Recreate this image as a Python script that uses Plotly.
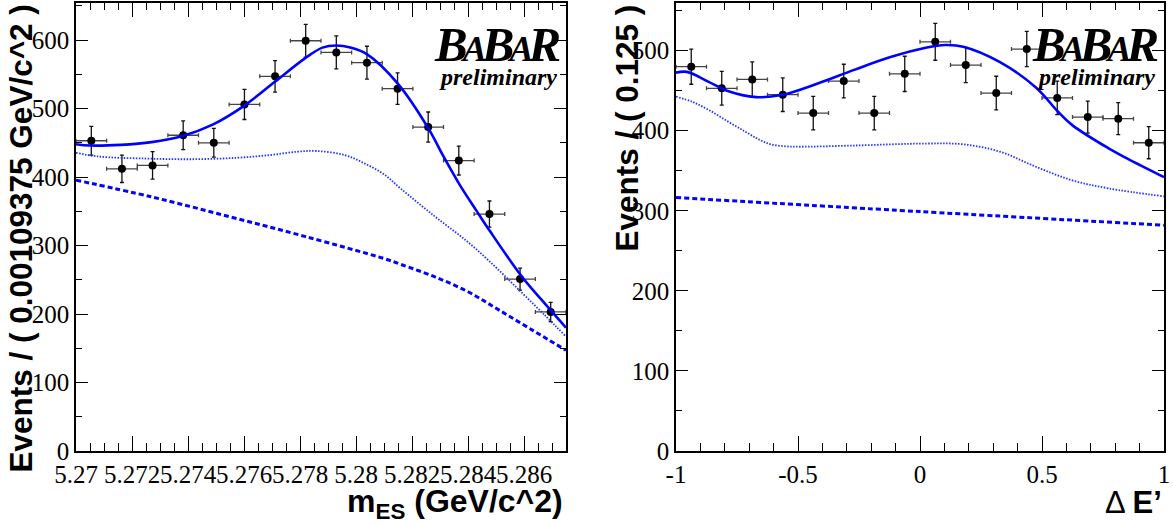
import plotly.graph_objects as go

W, H = 1173, 525

# ---------------- data: left panel (m_ES) ----------------
mes_centers = [5.270546875, 5.271640625, 5.272734375, 5.273828125, 5.274921875, 5.276015625,
               5.277109375, 5.278203125, 5.279296875, 5.280390625, 5.281484375, 5.282578125,
               5.283671875, 5.284765625, 5.285859375, 5.286953125]
mes_counts = [453, 412, 417, 461, 450, 506, 547, 599, 582, 567, 529, 473, 424, 346, 251, 203]
mes_errors = [21, 20, 20, 21, 21, 22, 23, 24, 24, 24, 23, 22, 21, 19, 16, 14]
mes_half_bin = 0.000546875

mes_total_x = [5.2700, 5.2705, 5.2716, 5.2727, 5.2738, 5.2749, 5.2760, 5.2771, 5.2782, 5.2788,
               5.2793, 5.2798, 5.2804, 5.2815, 5.2826, 5.2831, 5.2837, 5.2843, 5.2848,
               5.2859, 5.2866, 5.2875]
mes_total_y = [448, 446, 447, 451, 460, 477, 504, 539, 574, 589, 592, 589, 579, 536, 470, 432,
               389, 351, 320, 256, 222, 180]

mes_bkg_x = [5.2700, 5.2708, 5.2725, 5.2741, 5.2757, 5.2769, 5.2779, 5.2786, 5.2796, 5.2803,
             5.2810, 5.2816, 5.2828, 5.2840, 5.2850, 5.2859, 5.2867, 5.2875]
mes_bkg_y = [435.5, 430, 427, 426, 428, 432, 437, 438, 432, 420, 404, 383, 343, 305, 268, 232, 200, 167]

mes_cont_x = [5.2700, 5.2727, 5.2755, 5.2782, 5.2810, 5.2816, 5.2828, 5.2840, 5.2851, 5.2863, 5.2875]
mes_cont_y = [395.5, 371, 342, 313, 281, 272.5, 254.5, 232.5, 206, 176.5, 147]

mes_tickvals = [5.270, 5.272, 5.274, 5.276, 5.278, 5.280, 5.282, 5.284, 5.286]
mes_ticktext = ["5.27", "5.272", "5.274", "5.276", "5.278", "5.28", "5.282", "5.284", "5.286"]
left_yticks = [0, 100, 200, 300, 400, 500, 600]

# ---------------- data: right panel (Delta E') ----------------
de_centers = [-0.9375, -0.8125, -0.6875, -0.5625, -0.4375, -0.3125, -0.1875, -0.0625,
              0.0625, 0.1875, 0.3125, 0.4375, 0.5625, 0.6875, 0.8125, 0.9375]
de_counts = [480, 453, 464, 445, 422, 462, 422, 471, 511, 482, 447, 502, 441, 417, 415, 385]
de_errors = [22, 21, 22, 21, 21, 21, 21, 22, 23, 22, 21, 22, 21, 20, 20, 20]
de_half_bin = 0.0625

de_total_x = [-1.0, -0.955, -0.866, -0.791, -0.672, -0.568, -0.419, -0.270, -0.121, 0.028,
              0.103, 0.177, 0.326, 0.475, 0.565, 0.624, 0.773, 0.848, 1.0]
de_total_y = [472.5, 473.5, 461, 450, 442, 444.5, 459, 476, 492, 504, 507, 505, 486, 454,
              424, 407, 378, 365.5, 342]

de_bkg_x = [-1.0, -0.933, -0.866, -0.79, -0.717, -0.66, -0.612, -0.55, -0.493, -0.27, 0.028,
            0.177, 0.326, 0.475, 0.624, 0.773, 1.0]
de_bkg_y = [442.5, 436, 426, 412, 399, 389, 383, 380.5, 380, 381.5, 384, 383, 374, 355, 338, 328, 318]

de_cont_x = [-1.0, 0.0, 1.0]
de_cont_y = [316.5, 299, 282]

de_tickvals = [-1, -0.5, 0, 0.5, 1]
de_ticktext = ["-1", "-0.5", "0", "0.5", "1"]
right_yticks = [0, 100, 200, 300, 400, 500]

BLUE = "#0000ff"


def px_x(p):
    return p / W


def px_y(p):
    return 1 - p / H


fig = go.Figure()


def add_panel(xa, ya, cx, cy, cerr, half, tot_x, tot_y, bkg_x, bkg_y, cont_x, cont_y):
    fig.add_trace(go.Scatter(
        x=cx, y=cy, mode="markers", xaxis=xa, yaxis=ya,
        marker=dict(color="black", size=8, symbol="circle"),
        error_y=dict(type="data", array=cerr, visible=True, color="#111111", thickness=1.3, width=2),
        error_x=dict(type="constant", value=half, visible=True, color="#444444", thickness=1.3, width=2),
        showlegend=False, hoverinfo="skip"))
    fig.add_trace(go.Scatter(
        x=bkg_x, y=bkg_y, mode="lines", xaxis=xa, yaxis=ya,
        line=dict(color="#2233ff", width=1.8, dash="1.5px,1.5px", shape="spline"),
        showlegend=False, hoverinfo="skip"))
    fig.add_trace(go.Scatter(
        x=cont_x, y=cont_y, mode="lines", xaxis=xa, yaxis=ya,
        line=dict(color=BLUE, width=3, dash="5px,3px", shape="spline"),
        showlegend=False, hoverinfo="skip"))
    fig.add_trace(go.Scatter(
        x=tot_x, y=tot_y, mode="lines", xaxis=xa, yaxis=ya,
        line=dict(color=BLUE, width=2.6, shape="spline"),
        showlegend=False, hoverinfo="skip"))


add_panel("x", "y", mes_centers, mes_counts, mes_errors, mes_half_bin,
          mes_total_x, mes_total_y, mes_bkg_x, mes_bkg_y, mes_cont_x, mes_cont_y)
add_panel("x2", "y2", de_centers, de_counts, de_errors, de_half_bin,
          de_total_x, de_total_y, de_bkg_x, de_bkg_y, de_cont_x, de_cont_y)

tickfont = dict(family="Liberation Serif", size=25, color="black")
common = dict(showline=True, linecolor="black", linewidth=1.6, mirror="ticks",
              ticks="inside", tickcolor="black", tickwidth=1.3,
              showgrid=False, zeroline=False, tickfont=tickfont, tickangle=0,
              fixedrange=True, automargin=False)

y_dom = [1 - 451 / H, 1 - 2.6 / H]

fig.update_layout(
    width=W, height=H,
    margin=dict(l=0, r=0, t=0, b=0, pad=0, autoexpand=False),
    paper_bgcolor="white", plot_bgcolor="white",
    showlegend=False,
    xaxis=dict(domain=[76 / W, 566 / W], range=[5.27, 5.2875], anchor="y",
               tickmode="array", tickvals=mes_tickvals, ticktext=mes_ticktext, ticklen=15,
               minor=dict(ticks="inside", ticklen=8, tickmode="linear", tick0=5.27, dtick=0.0005,
                          tickcolor="black", tickwidth=1.2, showgrid=False),
               **common),
    yaxis=dict(domain=y_dom, range=[0, 654.7], anchor="x",
               tickmode="array", tickvals=left_yticks, ticktext=[str(v) for v in left_yticks],
               ticklen=12,
               minor=dict(ticks="inside", ticklen=6, tickmode="linear", tick0=0, dtick=50,
                          tickcolor="black", tickwidth=1.2, showgrid=False),
               **common),
    xaxis2=dict(domain=[676 / W, 1164 / W], range=[-1, 1], anchor="y2",
                tickmode="array", tickvals=de_tickvals, ticktext=de_ticktext, ticklen=15,
                minor=dict(ticks="inside", ticklen=8, tickmode="linear", tick0=-1, dtick=0.1,
                           tickcolor="black", tickwidth=1.2, showgrid=False),
                **common),
    yaxis2=dict(domain=y_dom, range=[0, 560], anchor="x2",
                tickmode="array", tickvals=right_yticks, ticktext=[str(v) for v in right_yticks],
                ticklen=12,
                minor=dict(ticks="inside", ticklen=6, tickmode="linear", tick0=0, dtick=50,
                           tickcolor="black", tickwidth=1.2, showgrid=False),
                **common),
)

title_font = dict(family="Liberation Sans", size=31.5, color="black", weight="bold")
ann = []
# y-axis titles (right-aligned at top of axis, like ROOT)
ann.append(dict(text="Events / ( 0.00109375 GeV/c^2 )", textangle=-90,
                x=px_x(20.6), y=px_y(3), xanchor="center", yanchor="top",
                xref="paper", yref="paper", showarrow=False, font=title_font))
ann.append(dict(text="Events / ( 0.125 )", textangle=-90,
                x=px_x(627), y=px_y(3), xanchor="center", yanchor="top",
                xref="paper", yref="paper", showarrow=False, font=title_font))
# x-axis titles
ann.append(dict(text="m<sub>ES</sub> (GeV/c^2)",
                x=px_x(565), y=px_y(481), xanchor="right", yanchor="top",
                xref="paper", yref="paper", showarrow=False,
                font=dict(family="Liberation Sans", size=32, color="black", weight="bold")))
ann.append(dict(text="\u0394 <b>E\u2019</b>",
                x=px_x(1164), y=px_y(482.5), xanchor="right", yanchor="top",
                xref="paper", yref="paper", showarrow=False,
                font=dict(family="Liberation Sans", size=31, color="black")))

# BaBar logos (one text each, small capital A's)
logo_text = ('<span style="letter-spacing:-5px">B<span style="font-size:36px">A</span>'
             'B<span style="font-size:36px">A</span>R</span>')
logo_size = 49
logo_baseline = 60
for logo_right, prelim_right in [(561, 559), (1159, 1157)]:
    ann.append(dict(text=logo_text, x=px_x(logo_right), y=px_y(logo_baseline - 0.891 * logo_size - 1),
                    xanchor="right", yanchor="top", xref="paper", yref="paper",
                    showarrow=False,
                    font=dict(family="Liberation Serif", size=logo_size, color="black",
                              weight="bold", style="italic")))
    ann.append(dict(text="preliminary", x=px_x(prelim_right), y=px_y(84 - 0.891 * 24 - 1),
                    xanchor="right", yanchor="top", xref="paper", yref="paper",
                    showarrow=False,
                    font=dict(family="Liberation Serif", size=24, color="black",
                              weight="bold", style="italic")))

fig.update_layout(annotations=ann)

fig.write_html("out.html", config={"displayModeBar": False},
               post_script="document.body.style.margin='0';document.body.style.overflow='hidden';")
